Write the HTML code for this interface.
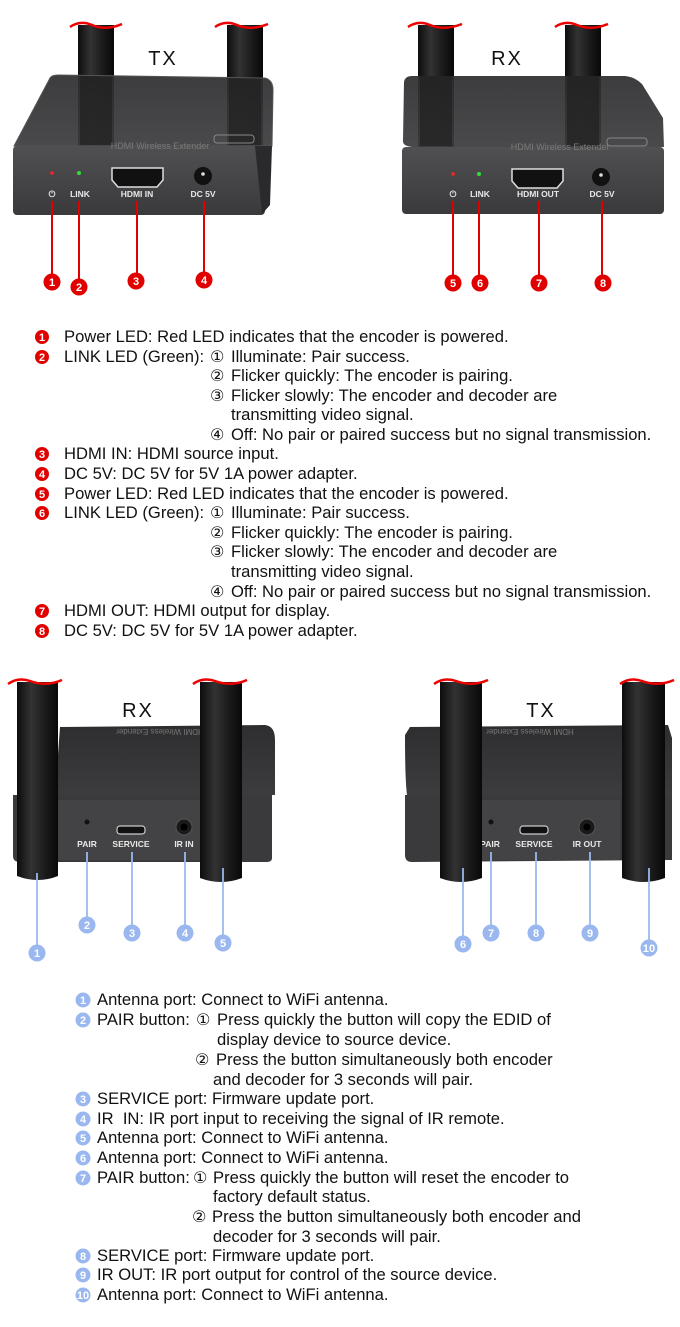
<!DOCTYPE html>
<html><head><meta charset="utf-8"><style>
html,body{margin:0;padding:0;background:#fff;}
svg{display:block;}
text{font-family:"Liberation Sans","DejaVu Sans",sans-serif;}
.t{font-size:16.6px;fill:#111;}
.c{font-family:"DejaVu Sans",sans-serif;font-size:16px;fill:#111;}
.lbl{font-size:8.5px;font-weight:bold;fill:#e8e8e8;text-anchor:middle;}
.big{font-size:20px;fill:#111;text-anchor:middle;letter-spacing:2px;}
.rb{fill:#e10000;}
.rt{font-size:11px;font-weight:bold;fill:#fff;text-anchor:middle;}
.bb{fill:#9ab8ef;}
.bt{font-size:11px;font-weight:bold;fill:#fff;text-anchor:middle;}
</style></head><body>
<svg width="680" height="1327" viewBox="0 0 680 1327" xmlns="http://www.w3.org/2000/svg">
<defs>
<linearGradient id="ant" x1="0" x2="1" y1="0" y2="0">
<stop offset="0" stop-color="#0c0c0c"/><stop offset="0.35" stop-color="#333"/><stop offset="0.7" stop-color="#1a1a1a"/><stop offset="1" stop-color="#080808"/></linearGradient>
<linearGradient id="top" x1="0" x2="0" y1="0" y2="1">
<stop offset="0" stop-color="#2e2e30"/><stop offset="1" stop-color="#3c3c3e"/></linearGradient>
<linearGradient id="front" x1="0" x2="0" y1="0" y2="1">
<stop offset="0" stop-color="#505052"/><stop offset="1" stop-color="#3a3a3c"/></linearGradient>
</defs>

<!-- ===== TOP LEFT TX ===== -->
<g>
<rect x="78" y="25" width="36" height="125" fill="url(#ant)"/>
<rect x="227" y="25" width="36" height="125" fill="url(#ant)"/>
<path d="M50 78 Q52 75 58 75 L265 78 Q273 80 273 90 L272 146 L14 146 Z" fill="url(#top)" opacity="0.93"/>
<rect x="80" y="75" width="32" height="70" fill="#1e1e1e" opacity="0.6"/>
<rect x="229" y="78" width="32" height="67" fill="#1e1e1e" opacity="0.6"/>
<path d="M50 78 Q52 75 58 75 L265 78 Q273 80 273 90 L272 146 L14 146 Z" fill="none" stroke="#555" stroke-width="1"/>
<rect x="13" y="146" width="252" height="69" rx="4" fill="url(#front)"/>
<path d="M255 146 L272 146 L270 205 L262 214 Z" fill="#2a2a2c"/>
<text x="160" y="149" font-size="9" fill="#7a7a7a" text-anchor="middle">HDMI Wireless Extender</text>
<rect x="214" y="135" width="40" height="8" rx="3" fill="none" stroke="#888" stroke-width="1"/>
<circle cx="52" cy="173" r="1.8" fill="#ff2020"/>
<circle cx="79" cy="173" r="2" fill="#30e030"/>
<text x="52" y="197" class="lbl">⏻</text>
<text x="80" y="197" class="lbl">LINK</text>
<path d="M112 168 L163 168 L163 180 L157 187 L118 187 L112 180 Z" fill="#111" stroke="#ddd" stroke-width="1.5"/>
<text x="137" y="197" class="lbl">HDMI IN</text>
<circle cx="203" cy="176" r="9" fill="#111"/><circle cx="203" cy="174" r="1.8" fill="#ddd"/>
<text x="203" y="197" class="lbl">DC 5V</text>
<g stroke="#e10000" stroke-width="2">
<line x1="52" y1="201" x2="52" y2="276"/><line x1="79" y1="201" x2="79" y2="280"/>
<line x1="137" y1="201" x2="137" y2="274"/><line x1="204" y1="201" x2="204" y2="273"/></g>
<circle cx="52" cy="282" r="8.5" class="rb"/><text x="52" y="286" class="rt">1</text>
<circle cx="79" cy="287" r="8.5" class="rb"/><text x="79" y="291" class="rt">2</text>
<circle cx="136" cy="281" r="8.5" class="rb"/><text x="136" y="285" class="rt">3</text>
<circle cx="204" cy="280" r="8.5" class="rb"/><text x="204" y="284" class="rt">4</text>
<path d="M70 27 Q80 20 92 25 Q106 31 122 24" fill="none" stroke="#e00" stroke-width="2.5"/>
<path d="M215 27 Q225 20 237 25 Q251 31 268 24" fill="none" stroke="#e00" stroke-width="2.5"/>
<text x="163" y="65" class="big">TX</text>
</g>

<!-- ===== TOP RIGHT RX ===== -->
<g>
<rect x="418" y="25" width="36" height="125" fill="url(#ant)"/>
<rect x="565" y="25" width="36" height="125" fill="url(#ant)"/>
<path d="M404 82 Q405 76 412 76 L625 76 Q635 77 642 84 L663 118 L664 147 L412 147 Q402 146 403 140 Z" fill="url(#top)" opacity="0.93"/>
<rect x="420" y="76" width="32" height="70" fill="#1e1e1e" opacity="0.6"/>
<rect x="567" y="76" width="32" height="70" fill="#1e1e1e" opacity="0.6"/>
<rect x="402" y="147" width="262" height="67" rx="4" fill="url(#front)"/>
<text x="560" y="150" font-size="9" fill="#7a7a7a" text-anchor="middle">HDMI Wireless Extender</text>
<rect x="607" y="138" width="40" height="8" rx="3" fill="none" stroke="#888" stroke-width="1"/>
<circle cx="453" cy="174" r="1.8" fill="#ff2020"/>
<circle cx="479" cy="174" r="2" fill="#30e030"/>
<text x="453" y="197" class="lbl">⏻</text>
<text x="480" y="197" class="lbl">LINK</text>
<path d="M512 169 L563 169 L563 181 L557 188 L518 188 L512 181 Z" fill="#111" stroke="#ddd" stroke-width="1.5"/>
<text x="538" y="197" class="lbl">HDMI OUT</text>
<circle cx="601" cy="177" r="9" fill="#111"/><circle cx="601" cy="175" r="1.8" fill="#ddd"/>
<text x="602" y="197" class="lbl">DC 5V</text>
<g stroke="#e10000" stroke-width="2">
<line x1="453" y1="201" x2="453" y2="276"/><line x1="479" y1="201" x2="479" y2="276"/>
<line x1="539" y1="201" x2="539" y2="276"/><line x1="602" y1="201" x2="602" y2="276"/></g>
<circle cx="453" cy="283" r="8.5" class="rb"/><text x="453" y="287" class="rt">5</text>
<circle cx="480" cy="283" r="8.5" class="rb"/><text x="480" y="287" class="rt">6</text>
<circle cx="539" cy="283" r="8.5" class="rb"/><text x="539" y="287" class="rt">7</text>
<circle cx="603" cy="283" r="8.5" class="rb"/><text x="603" y="287" class="rt">8</text>
<path d="M408 27 Q418 20 430 25 Q444 31 462 24" fill="none" stroke="#e00" stroke-width="2.5"/>
<path d="M555 27 Q565 20 577 25 Q591 31 608 24" fill="none" stroke="#e00" stroke-width="2.5"/>
<text x="507" y="65" class="big">RX</text>
</g>

<!-- ===== TOP TEXT ===== -->
<g>
<circle cx="42" cy="337" r="7" class="rb"/><text x="42" y="341" class="rt" font-size="10.5">1</text>
<text x="64" y="342" class="t">Power LED: Red LED indicates that the encoder is powered.</text>
<circle cx="42" cy="357" r="7" class="rb"/><text x="42" y="361" class="rt" font-size="10.5">2</text>
<text x="64" y="362" class="t">LINK LED (Green):</text><text x="210" y="362" class="c">①</text><text x="231" y="362" class="t">Illuminate: Pair success.</text>
<text x="210" y="381" class="c">②</text><text x="231" y="381" class="t">Flicker quickly: The encoder is pairing.</text>
<text x="210" y="401" class="c">③</text><text x="231" y="401" class="t">Flicker slowly: The encoder and decoder are</text>
<text x="231" y="420" class="t">transmitting video signal.</text>
<text x="210" y="440" class="c">④</text><text x="231" y="440" class="t">Off: No pair or paired success but no signal transmission.</text>
<circle cx="42" cy="454" r="7" class="rb"/><text x="42" y="458" class="rt" font-size="10.5">3</text>
<text x="64" y="459" class="t">HDMI IN: HDMI source input.</text>
<circle cx="42" cy="474" r="7" class="rb"/><text x="42" y="478" class="rt" font-size="10.5">4</text>
<text x="64" y="479" class="t">DC 5V: DC 5V for 5V 1A power adapter.</text>
<circle cx="42" cy="494" r="7" class="rb"/><text x="42" y="498" class="rt" font-size="10.5">5</text>
<text x="64" y="499" class="t">Power LED: Red LED indicates that the encoder is powered.</text>
<circle cx="42" cy="513" r="7" class="rb"/><text x="42" y="517" class="rt" font-size="10.5">6</text>
<text x="64" y="518" class="t">LINK LED (Green):</text><text x="210" y="518" class="c">①</text><text x="231" y="518" class="t">Illuminate: Pair success.</text>
<text x="210" y="538" class="c">②</text><text x="231" y="538" class="t">Flicker quickly: The encoder is pairing.</text>
<text x="210" y="557" class="c">③</text><text x="231" y="557" class="t">Flicker slowly: The encoder and decoder are</text>
<text x="231" y="577" class="t">transmitting video signal.</text>
<text x="210" y="597" class="c">④</text><text x="231" y="597" class="t">Off: No pair or paired success but no signal transmission.</text>
<circle cx="42" cy="611" r="7" class="rb"/><text x="42" y="615" class="rt" font-size="10.5">7</text>
<text x="64" y="616" class="t">HDMI OUT: HDMI output for display.</text>
<circle cx="42" cy="631" r="7" class="rb"/><text x="42" y="635" class="rt" font-size="10.5">8</text>
<text x="64" y="636" class="t">DC 5V: DC 5V for 5V 1A power adapter.</text>
</g>

<!-- ===== BOTTOM LEFT RX ===== -->
<g>
<path d="M60 727 L265 725 Q275 726 275 740 L275 795 L55 795 Z" fill="url(#top)"/>
<text x="160" y="735" font-size="8" fill="#777" text-anchor="middle" transform="rotate(180 160 732)">HDMI Wireless Extender</text>
<path d="M13 795 L272 795 L272 858 Q272 862 266 862 L20 862 Q13 862 13 856 Z" fill="#3a3a3c"/>
<rect x="58" y="800" width="150" height="60" fill="#434345"/>
<circle cx="87" cy="822" r="2.5" fill="#111"/>
<text x="87" y="847" class="lbl">PAIR</text>
<rect x="117" y="826" width="28" height="8" rx="3" fill="#111" stroke="#ccc" stroke-width="1.2"/>
<text x="131" y="847" class="lbl">SERVICE</text>
<circle cx="184" cy="827" r="8" fill="#1a1a1a" stroke="#555"/><circle cx="184" cy="827" r="3.5" fill="#000"/>
<text x="184" y="847" class="lbl">IR IN</text>
<path d="M17 682 L58 682 L58 876 Q38 884 17 876 Z" fill="url(#ant)"/>
<path d="M200 682 L242 682 L242 878 Q221 886 200 878 Z" fill="url(#ant)"/>
<path d="M8 684 Q18 677 30 681 Q46 687 62 680" fill="none" stroke="#e00" stroke-width="2.5"/>
<path d="M193 684 Q203 677 215 681 Q231 687 247 680" fill="none" stroke="#e00" stroke-width="2.5"/>
<text x="138" y="717" class="big">RX</text>
<g stroke="#9ab8ef" stroke-width="1.8">
<line x1="37" y1="873" x2="37" y2="946"/><line x1="87" y1="852" x2="87" y2="918"/>
<line x1="132" y1="852" x2="132" y2="926"/><line x1="185" y1="852" x2="185" y2="926"/>
<line x1="223" y1="868" x2="223" y2="936"/></g>
<circle cx="37" cy="953" r="8.5" class="bb"/><text x="37" y="957" class="bt">1</text>
<circle cx="87" cy="925" r="8.5" class="bb"/><text x="87" y="929" class="bt">2</text>
<circle cx="132" cy="933" r="8.5" class="bb"/><text x="132" y="937" class="bt">3</text>
<circle cx="185" cy="933" r="8.5" class="bb"/><text x="185" y="937" class="bt">4</text>
<circle cx="223" cy="943" r="8.5" class="bb"/><text x="223" y="947" class="bt">5</text>
</g>

<!-- ===== BOTTOM RIGHT TX ===== -->
<g>
<path d="M410 727 L668 725 L672 738 L672 795 L407 795 Q405 780 405 735 Z" fill="url(#top)"/>
<text x="530" y="735" font-size="8" fill="#777" text-anchor="middle" transform="rotate(180 530 732)">HDMI Wireless Extender</text>
<path d="M405 795 L672 795 L672 860 L412 862 Q405 862 405 855 Z" fill="#3a3a3c"/>
<rect x="482" y="800" width="138" height="60" fill="#434345"/>
<circle cx="491" cy="822" r="2.5" fill="#111"/>
<text x="490" y="847" class="lbl">PAIR</text>
<rect x="520" y="826" width="28" height="8" rx="3" fill="#111" stroke="#ccc" stroke-width="1.2"/>
<text x="534" y="847" class="lbl">SERVICE</text>
<circle cx="587" cy="827" r="8" fill="#1a1a1a" stroke="#555"/><circle cx="587" cy="827" r="3.5" fill="#000"/>
<text x="587" y="847" class="lbl">IR OUT</text>
<path d="M440 682 L482 682 L482 878 Q461 886 440 878 Z" fill="url(#ant)"/>
<path d="M622 682 L665 682 L665 878 Q643 886 622 878 Z" fill="url(#ant)"/>
<path d="M434 684 Q444 677 456 681 Q472 687 488 680" fill="none" stroke="#e00" stroke-width="2.5"/>
<path d="M620 684 Q630 677 642 681 Q658 687 674 680" fill="none" stroke="#e00" stroke-width="2.5"/>
<text x="541" y="717" class="big">TX</text>
<g stroke="#9ab8ef" stroke-width="1.8">
<line x1="463" y1="868" x2="463" y2="936"/><line x1="491" y1="852" x2="491" y2="926"/>
<line x1="536" y1="852" x2="536" y2="926"/><line x1="590" y1="852" x2="590" y2="926"/>
<line x1="649" y1="868" x2="649" y2="940"/></g>
<circle cx="463" cy="944" r="8.5" class="bb"/><text x="463" y="948" class="bt">6</text>
<circle cx="491" cy="933" r="8.5" class="bb"/><text x="491" y="937" class="bt">7</text>
<circle cx="536" cy="933" r="8.5" class="bb"/><text x="536" y="937" class="bt">8</text>
<circle cx="590" cy="933" r="8.5" class="bb"/><text x="590" y="937" class="bt">9</text>
<circle cx="649" cy="948" r="8.5" class="bb"/><text x="649" y="952" class="bt" font-size="9.5">10</text>
</g>

<!-- ===== BOTTOM TEXT ===== -->
<g>
<circle cx="83" cy="1000" r="7.5" class="bb"/><text x="83" y="1004" class="bt" font-size="10.5">1</text>
<text x="97" y="1005" class="t">Antenna port: Connect to WiFi antenna.</text>
<circle cx="83" cy="1020" r="7.5" class="bb"/><text x="83" y="1024" class="bt" font-size="10.5">2</text>
<text x="97" y="1025" class="t">PAIR button:</text><text x="196" y="1025" class="c">①</text><text x="217" y="1025" class="t">Press quickly the button will copy the EDID of</text>
<text x="217" y="1045" class="t">display device to source device.</text>
<text x="195" y="1065" class="c">②</text><text x="216" y="1065" class="t">Press the button simultaneously both encoder</text>
<text x="213" y="1085" class="t">and decoder for 3 seconds will pair.</text>
<circle cx="83" cy="1099" r="7.5" class="bb"/><text x="83" y="1103" class="bt" font-size="10.5">3</text>
<text x="97" y="1104" class="t">SERVICE port: Firmware update port.</text>
<circle cx="83" cy="1119" r="7.5" class="bb"/><text x="83" y="1123" class="bt" font-size="10.5">4</text>
<text x="97" y="1124" class="t" xml:space="preserve">IR  IN: IR port input to receiving the signal of IR remote.</text>
<circle cx="83" cy="1138" r="7.5" class="bb"/><text x="83" y="1142" class="bt" font-size="10.5">5</text>
<text x="97" y="1143" class="t">Antenna port: Connect to WiFi antenna.</text>
<circle cx="83" cy="1158" r="7.5" class="bb"/><text x="83" y="1162" class="bt" font-size="10.5">6</text>
<text x="97" y="1163" class="t">Antenna port: Connect to WiFi antenna.</text>
<circle cx="83" cy="1178" r="7.5" class="bb"/><text x="83" y="1182" class="bt" font-size="10.5">7</text>
<text x="97" y="1183" class="t">PAIR button:</text><text x="193" y="1183" class="c">①</text><text x="213" y="1183" class="t">Press quickly the button will reset the encoder to</text>
<text x="213" y="1202" class="t">factory default status.</text>
<text x="192" y="1222" class="c">②</text><text x="212" y="1222" class="t">Press the button simultaneously both encoder and</text>
<text x="213" y="1242" class="t">decoder for 3 seconds will pair.</text>
<circle cx="83" cy="1256" r="7.5" class="bb"/><text x="83" y="1260" class="bt" font-size="10.5">8</text>
<text x="97" y="1261" class="t">SERVICE port: Firmware update port.</text>
<circle cx="83" cy="1275" r="7.5" class="bb"/><text x="83" y="1279" class="bt" font-size="10.5">9</text>
<text x="97" y="1280" class="t">IR OUT: IR port output for control of the source device.</text>
<circle cx="83" cy="1295" r="7.5" class="bb"/><text x="83" y="1299" class="bt" font-size="9">10</text>
<text x="97" y="1300" class="t">Antenna port: Connect to WiFi antenna.</text>
</g>
</svg>
</body></html>
